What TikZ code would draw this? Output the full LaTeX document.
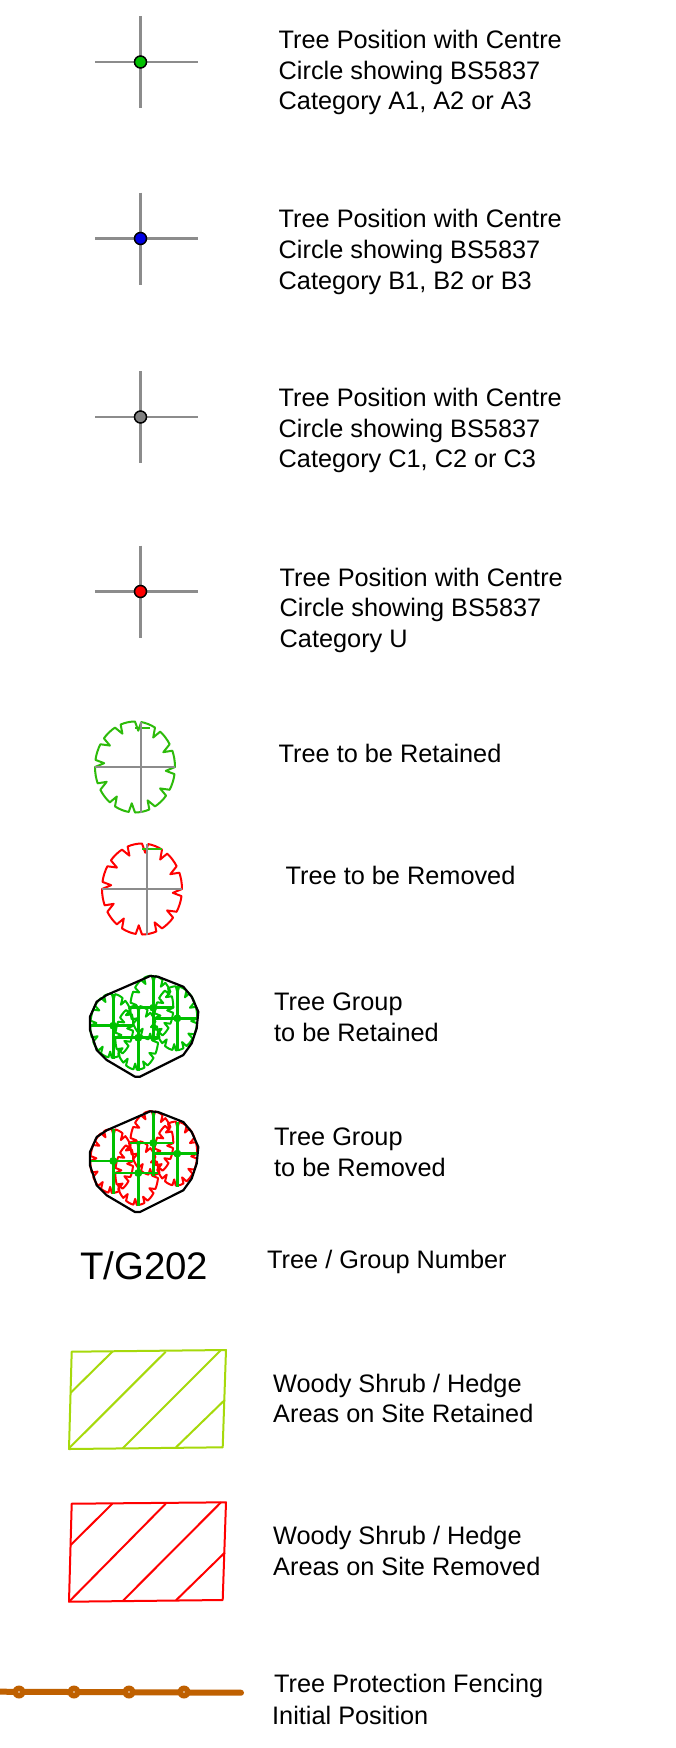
\documentclass[tikz,border=0pt]{standalone}
\usepackage{fontspec}
\setmainfont{Liberation Sans}
\definecolor{tgreen}{HTML}{00C000}
\definecolor{sgreen}{HTML}{2DBB0A}
\definecolor{hgreen}{HTML}{A6D90B}
\definecolor{fence}{HTML}{BF6000}
\definecolor{armgrey}{HTML}{8C8C8C}
\tikzset{
  lbl/.style={anchor=west,inner sep=0pt,align=left,font=\fontsize{25.3}{30.7}\selectfont},
  arm/.style={armgrey,line width=2.1pt},
  cdot/.style={circle,draw=black,line width=1.5pt,minimum size=12pt,inner sep=0pt},
  fdot/.style={circle,fill=fence,minimum size=13pt,inner sep=0pt},
  hatch/.style={line width=2pt,line join=round},
  hull/.style={black,line width=2.2pt,line join=round}
}
% cx cy rx ry colour width depth
\newcommand\scallop[7]{%
  \draw[#5,line width=#6,line join=round]
    ({#1+#3*cos(0)},{#2+#4*sin(0)})
    foreach \a in {0,30,...,330} {
      -- ({#1+(#3-#7)*cos(\a+6)},{#2+(#4-#7)*sin(\a+6)})
      -- ({#1+#3*cos(\a+9)},{#2+#4*sin(\a+9)})
      -- ({#1+#3*cos(\a+14)},{#2+#4*sin(\a+14)})
      -- ({#1+#3*cos(\a+19)},{#2+#4*sin(\a+19)})
      -- ({#1+#3*cos(\a+25)},{#2+#4*sin(\a+25)})
      -- ({#1+#3*cos(\a+30)},{#2+#4*sin(\a+30)})
    } -- cycle;}
% cross: cx cy fill name
\newcommand\crossmark[4]{%
  \coordinate (#4w) at (#1-45.5,#2);
  \coordinate (#4e) at (#1+57.5,#2);
  \coordinate (#4n) at (#1,#2-46);
  \coordinate (#4s) at (#1,#2+46);
  \draw[arm] (#4w) -- (#4e);
  \draw[arm] (#4n) -- (#4s);
  \node[cdot,fill=#3] (#4) at (#1,#2) {};}
% group member: cx cy colour
\newcommand\member[3]{%
  \scallop{#1-1.5}{#2}{21.5}{32}{#3}{2pt}{6}}
\newcommand\memberarms[2]{%
  \draw[tgreen,line width=2.6pt] (#1-23,#2) -- (#1+20,#2);
  \draw[tgreen,line width=2.6pt] (#1,#2-32) -- (#1,#2+33);
  \fill[tgreen] (#1,#2) circle (4);}
% group: y offset, colour, prefix
\newcommand\treegroup[3]{%
  \begin{scope}[shift={(70,#1)}]
    \member{43.3}{65.7}{#2}\member{68.3}{77.7}{#2}\member{83.3}{47.7}{#2}\member{107.3}{58.3}{#2}
    \memberarms{43.3}{65.7}\memberarms{68.3}{77.7}\memberarms{83.3}{47.7}\memberarms{107.3}{58.3}
    \draw[hull] (80,16) -- (88,16.7) -- (113.3,26.7) -- (121.7,36.7) -- (128.3,51.7) -- (126.7,68.3) -- (121.7,83.3) -- (113.3,95) -- (70,116.7) -- (65,116.7) -- (36.7,100) -- (26.7,90) -- (20,70) -- (20,56.7) -- (26.7,41.7) -- (36.7,35) -- (75,18.3) -- cycle;
  \end{scope}}
\begin{document}
\begin{tikzpicture}[x=1pt,y=-1pt]
\useasboundingbox (0,0) rectangle (676,1748);
\fill[white] (0,0) rectangle (676,1748);

\crossmark{140.5}{62}{tgreen}{ca}
\crossmark{140.5}{238.5}{blue!90!black}{cb}
\crossmark{140.5}{417}{gray}{cc}
\crossmark{140.5}{591.5}{red}{cu}

\node[lbl] (ta) at (278.5,72.6) {Tree Position with Centre\\Circle showing BS5837\\Category A1, A2 or A3};
\node[lbl] (tb) at (278.5,252) {Tree Position with Centre\\Circle showing BS5837\\Category B1, B2 or B3};
\node[lbl] (tc) at (278.5,430.6) {Tree Position with Centre\\Circle showing BS5837\\Category C1, C2 or C3};
\node[lbl] (tu) at (279.5,610.2) {Tree Position with Centre\\Circle showing BS5837\\Category U};

% single trees
\scallop{135}{767}{40}{45.5}{sgreen}{2pt}{9}
\draw[sgreen,line width=2pt] (135,728) -- (150,728);
\draw[arm] (95,767) -- (175,767);
\draw[arm] (140.7,721.7) -- (140.7,812.7);
\node[lbl] (tr) at (278.5,753) {Tree to be Retained};

\scallop{142}{889}{40}{45.5}{red}{2pt}{9}
\draw[sgreen,line width=2pt] (142,849) -- (162,849);
\draw[arm] (102,889) -- (182,889);
\draw[arm] (147.3,843.5) -- (147.3,934.5);
\node[lbl] (trm) at (285.5,875) {Tree to be Removed};

% groups
\treegroup{960}{tgreen}{g}
\node[lbl] (gr) at (274,1017) {Tree Group\\to be Retained};
\treegroup{1095.3}{red}{h}
\node[lbl] (gm) at (274,1152.5) {Tree Group\\to be Removed};

% number
\node[anchor=west,inner sep=0pt,font=\fontsize{38.4}{40}\selectfont] (num) at (80,1266) {T/G202};
\node[anchor=west,inner sep=0pt,font=\fontsize{25.3}{28}\selectfont] (numl) at (267,1262) {Tree / Group Number};

% shrubs
\begin{scope}[hgreen]
\draw[hatch] (71.7,1351.7) -- (226,1350) -- (222.7,1447.3) -- (69,1449) -- cycle;
\draw[hatch] (70.7,1392.7) -- (112.3,1351.7);
\draw[hatch] (69,1448.3) -- (165.7,1351.7);
\draw[hatch] (122.7,1448.3) -- (221,1350);
\draw[hatch] (176,1447.3) -- (224.7,1400);
\end{scope}
\node[lbl] (sr) at (273,1398.5) {Woody Shrub / Hedge\\Areas on Site Retained};

\begin{scope}[red]
\draw[hatch] (71.7,1503.7) -- (226,1502.3) -- (222.7,1600) -- (69,1601.7) -- cycle;
\draw[hatch] (70.7,1545) -- (112.3,1503.7);
\draw[hatch] (69,1601.7) -- (165.7,1503.7);
\draw[hatch] (122.7,1601) -- (221,1502.3);
\draw[hatch] (176,1600.3) -- (224.7,1552.7);
\end{scope}
\node[lbl] (sm) at (273,1551) {Woody Shrub / Hedge\\Areas on Site Removed};

% fence
\coordinate (fa) at (0,1691.7);
\coordinate (fb) at (241,1692.7);
\draw[fence,line width=6pt,line cap=round] (fa) -- (fb);
\foreach \x/\n in {19/1,74/2,129/3,184/4}{
  \node[fdot] (f\n) at (\x,1692) {};
  \fill[white!85!fence] (f\n) circle (0.9);
}
\node[lbl] (fl) at (274,1686) {Tree Protection Fencing};
\node[lbl] (fi) at (272,1715) {Initial Position};
\end{tikzpicture}
\end{document}
